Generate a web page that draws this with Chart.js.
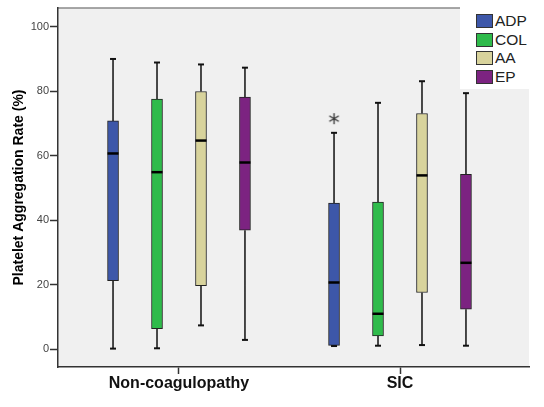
<!DOCTYPE html>
<html>
<head>
<meta charset="utf-8">
<script src="https://cdn.jsdelivr.net/npm/chart.js@4"></script>
<style>
  html, body { margin: 0; padding: 0; background: #fff; }
  #wrap { position: relative; width: 544px; height: 407px; }
  #legend {
    position: absolute; left: 460px; top: 7px; width: 69px; height: 82px;
    background: #fff; font-family: "Liberation Sans", Arial, sans-serif;
    font-size: 15.5px; color: #222;
  }
  #legend div { position: absolute; left: 16px; height: 18px; line-height: 18px; }
  #legend span {
    display: inline-block; width: 15px; height: 12px; border: 1px solid #333;
    vertical-align: -2px; margin-right: 2px;
  }
</style>
</head>
<body>
<div id="wrap">
  <canvas id="boxChart" width="544" height="407"></canvas>
  <div id="legend"></div>
</div>
<script>
// groups on the x axis
const groups = ["Non-coagulopathy", "SIC"];
// agonists (one box per group)
const agonists = ["ADP", "COL", "AA", "EP"];
const colors = ["#3d57a9", "#2fbb4b", "#d8d39c", "#7c2381"];

// box statistics per agonist: [Non-coagulopathy, SIC]
const whiskerMin = {
  ADP: [0.2, 1.0],
  COL: [0.3, 1.1],
  AA:  [7.4, 1.3],
  EP:  [2.9, 1.1]
};
const q1 = {
  ADP: [21.3, 1.2],
  COL: [6.4, 4.1],
  AA:  [19.7, 17.6],
  EP:  [36.9, 12.4]
};
const median = {
  ADP: [60.7, 20.7],
  COL: [54.9, 11.0],
  AA:  [64.7, 53.9],
  EP:  [57.9, 26.8]
};
const q3 = {
  ADP: [70.8, 45.3],
  COL: [77.6, 45.6],
  AA:  [79.9, 73.1],
  EP:  [78.2, 54.2]
};
const whiskerMax = {
  ADP: [90.0, 67.1],
  COL: [88.9, 76.4],
  AA:  [88.3, 83.1],
  EP:  [87.3, 79.4]
};
// extreme value (asterisk): SIC, ADP
const outliers = [{ group: 1, agonist: "ADP", value: 71.5 }];

const yTicks = [0, 20, 40, 60, 80, 100];

// spacing of the boxes inside a group, in x-axis units
const boxStep = 0.199;
const boxX = (g, i) => g + (i - 1.5) * boxStep;

const boxSets = agonists.map((name, i) => ({
  type: "bar",
  label: name,
  data: groups.map((_, g) => ({ x: boxX(g, i), y: [q1[name][g], q3[name][g]] })),
  backgroundColor: colors[i],
  borderColor: "#222",
  borderWidth: 1,
  borderSkipped: false,
  barThickness: 11,
  grouped: false,
  order: 2
}));

const whiskerData = [];
const capData = [];
const medianData = [];
agonists.forEach((name, i) => {
  groups.forEach((_, g) => {
    const x = boxX(g, i);
    whiskerData.push({ x, y: whiskerMax[name][g] }, { x, y: q3[name][g] }, { x, y: null });
    whiskerData.push({ x, y: q1[name][g] }, { x, y: whiskerMin[name][g] }, { x, y: null });
    capData.push({ x, y: whiskerMax[name][g] }, { x, y: whiskerMin[name][g] });
    medianData.push({ x, y: median[name][g] });
  });
});

const outlierData = outliers.map(o => ({ x: boxX(o.group, agonists.indexOf(o.agonist)), y: o.value }));

// six-spoke asterisk marker, like SPSS extreme values
const asterisk = document.createElement("canvas");
asterisk.width = 13;
asterisk.height = 13;
(function () {
  const c = asterisk.getContext("2d");
  c.strokeStyle = "#333";
  c.lineWidth = 1.3;
  c.beginPath();
  for (let k = 0; k < 3; k++) {
    const a = Math.PI / 2 + k * Math.PI / 3;
    const dx = Math.cos(a) * 5.5, dy = Math.sin(a) * 5.5;
    c.moveTo(6.5 - dx, 6.5 - dy);
    c.lineTo(6.5 + dx, 6.5 + dy);
  }
  c.stroke();
})();

// plot background and top border
const frame = {
  id: "frame",
  beforeDraw(chart) {
    const { ctx, chartArea: a } = chart;
    ctx.save();
    ctx.fillStyle = "#f0f0f0";
    ctx.fillRect(a.left, a.top, a.right - a.left, a.bottom - a.top);
    ctx.strokeStyle = "#8a8a8a";
    ctx.lineWidth = 1.5;
    ctx.beginPath();
    ctx.moveTo(a.left, a.top);
    ctx.lineTo(a.right, a.top);
    ctx.stroke();
    ctx.restore();
  }
};

new Chart(document.getElementById("boxChart"), {
  type: "bar",
  data: {
    datasets: [
      ...boxSets,
      {
        type: "line",
        label: "whiskers",
        data: whiskerData,
        borderColor: "#111",
        borderWidth: 1.5,
        pointRadius: 0,
        spanGaps: false,
        order: 3
      },
      {
        type: "scatter",
        label: "caps",
        data: capData,
        pointStyle: "line",
        pointRadius: 3,
        borderColor: "#111",
        borderWidth: 2,
        order: 1
      },
      {
        type: "scatter",
        label: "median",
        data: medianData,
        pointStyle: "line",
        pointRadius: 5.5,
        borderColor: "#000",
        borderWidth: 2.5,
        order: 0
      },
      {
        type: "scatter",
        label: "extreme",
        data: outlierData,
        pointStyle: asterisk,
        pointRadius: 6,
        order: 0
      }
    ]
  },
  options: {
    responsive: false,
    animation: false,
    layout: { padding: { left: 0, top: 5, right: 15, bottom: 0 } },
    plugins: { legend: { display: false }, tooltip: { enabled: false } },
    scales: {
      x: {
        type: "linear",
        min: -0.5475,
        max: 1.5837,
        offset: false,
        afterFit: s => { s.height = 40; },
        afterBuildTicks: s => { s.ticks = groups.map((_, g) => ({ value: g })); },
        ticks: {
          callback: v => groups[v],
          color: "#111",
          padding: 0,
          maxRotation: 0,
          font: { family: "'Liberation Sans', Arial, sans-serif", size: 16, weight: "bold" }
        },
        grid: { offset: false, drawOnChartArea: false, tickLength: 7, tickColor: "#333", tickWidth: 1.5 },
        border: { color: "#333", width: 1.5 }
      },
      y: {
        min: -5.5,
        max: 105.8,
        afterFit: s => { s.width = 58; },
        afterBuildTicks: s => { s.ticks = yTicks.map(v => ({ value: v })); },
        ticks: {
          color: "#444",
          padding: 1,
          font: { family: "'Liberation Sans', Arial, sans-serif", size: 11 }
        },
        grid: { drawOnChartArea: false, tickLength: 8, tickColor: "#333", tickWidth: 1.5 },
        border: { color: "#333", width: 1.5 },
        title: {
          display: true,
          text: "Platelet Aggregation Rate (%)",
          color: "#000",
          padding: { top: 11, bottom: 0 },
          font: { family: "'Liberation Sans', Arial, sans-serif", size: 14, weight: "bold" }
        }
      }
    }
  },
  plugins: [frame]
});

// legend
const legend = document.getElementById("legend");
agonists.forEach((name, i) => {
  const row = document.createElement("div");
  row.style.top = (5 + i * 18.5) + "px";
  row.innerHTML = `<span style="background:${colors[i]}"></span>${name}`;
  legend.appendChild(row);
});
</script>
</body>
</html>
